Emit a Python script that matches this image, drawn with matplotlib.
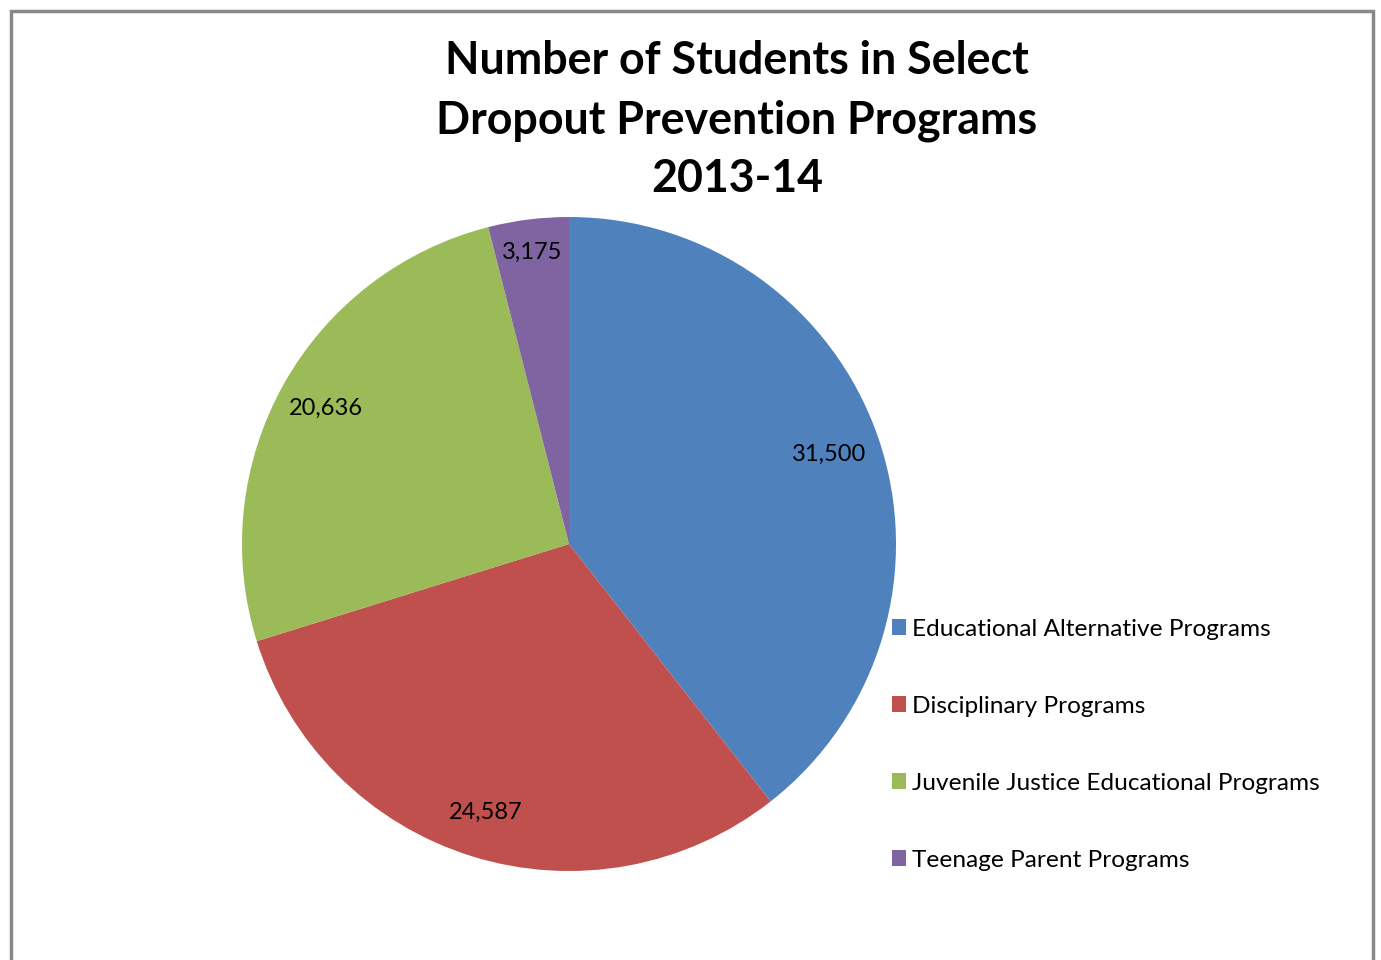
import numpy as np
import matplotlib.pyplot as plt
from matplotlib.patches import Patch, Rectangle

plt.rcParams['font.family'] = ['Lato', 'DejaVu Sans']

# data
programs = ['Educational Alternative Programs', 'Disciplinary Programs',
            'Juvenile Justice Educational Programs', 'Teenage Parent Programs']
students = [31500, 24587, 20636, 3175]
colors = ['#4F81BD', '#C0504D', '#9BBB59', '#8064A2']
label_dist = [0.84, 0.86, 0.85, 0.9]

fig = plt.figure(figsize=(13.81, 9.6), dpi=100)

# grey frame round the chart area
fig.patches.append(Rectangle((10.5 / 1381, -0.1), 1362 / 1381, 1 - 10.5 / 960 + 0.1,
                             transform=fig.transFigure, fill=False,
                             edgecolor='#898989', linewidth=2.5))

ax = fig.add_axes([242 / 1381, 89 / 960, 654 / 1381, 654 / 960])
wedges, _ = ax.pie(students, colors=colors, startangle=90, counterclock=False,
                   wedgeprops=dict(linewidth=0))
ax.set_xlim(-1, 1)
ax.set_ylim(-1, 1)
ax.set_aspect('equal')

# value labels inside each wedge
for w, v, d in zip(wedges, students, label_dist):
    ang = np.deg2rad((w.theta1 + w.theta2) / 2)
    ax.text(d * np.cos(ang), d * np.sin(ang), f'{v:,}', ha='center', va='center',
            fontsize=17, color='black')

fig.suptitle('Number of Students in Select\nDropout Prevention Programs\n2013-14',
             x=737 / 1381, y=1 - 40 / 960, fontsize=32.2, fontweight='bold',
             linespacing=1.5, va='top')

handles = [Patch(facecolor=c, edgecolor='none') for c in colors]
fig.legend(handles, programs, loc='upper left', bbox_to_anchor=(882 / 1381, 1 - 609 / 960),
           frameon=False, fontsize=17.6, handlelength=0.6, handleheight=0.6,
           handletextpad=0.22, labelspacing=2.29, borderaxespad=0)

fig.savefig('out.png', dpi=100)
